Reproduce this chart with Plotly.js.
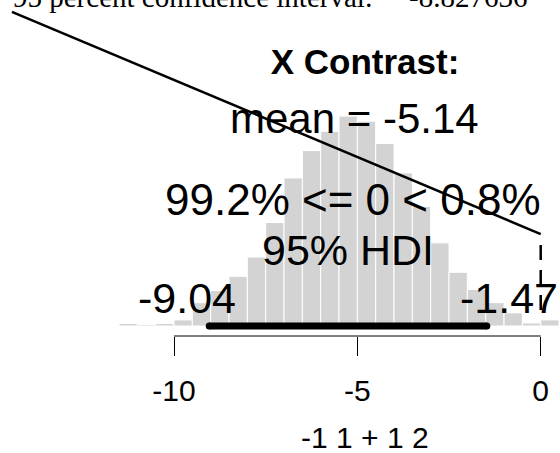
<!DOCTYPE html>
<html>
<head>
<meta charset="utf-8">
<script src="https://cdn.plot.ly/plotly-3.0.1.min.js"></script>
<style>html,body{margin:0;padding:0;background:#fff;}#chart{width:560px;height:453px;}</style>
</head>
<body>
<div id="chart"></div>
<script>
// ---- data ----
const binCenters = [-11.25,-10.75,-10.25,-9.75,-9.25,-8.75,-8.25,-7.75,-7.25,-6.75,-6.25,-5.75,
                    -5.25,-4.75,-4.25,-3.75,-3.25,-2.75,-2.25,-1.75,-1.25,-0.75,-0.25,0.25];
const binDensity = [0.0025,0.0015,0.0025,0.006,0.023,0.035,0.049,0.068,0.102,0.146,0.173,0.192,
                    0.207,0.202,0.180,0.151,0.118,0.082,0.053,0.036,0.023,0.013,0.003,0.006];
const binWidth = 0.5;
const hdiLimits = [-9.04, -1.47];
const meanValue = -5.14;
const compValue = 0;
const pctBelow = 99.2;
const pctAbove = 0.8;
const tickValues = [-10, -5, 0];
const tickLabels = ['-10', '-5', '0'];
const xLabel = '-1 1 + 1 2';
const mainTitle = 'X Contrast:';
const ciLabel = '95 percent confidence interval:';
const ciLower = '-8.827636';
// stray segment drawn over the plot (data units) and compVal dashed marker heights
const strayX = [-14.42, 0.0];
const strayY = [0.3097, 0.0907];
const compLineY = [0.0799, 0.0158];

// ---- layout helpers ----
const W = 560, H = 453, plotH = 336;
const pxPerY = 1014;
const yMin = -10 / pxPerY, yMax = 326 / pxPerY;
const xMin = -14.745, xMax = 0.526;
const yp = px => 1 - px / plotH;           // pixel row -> paper y
const xp = px => px / W;                   // pixel col -> paper x
const sans = 'Liberation Sans, Arial, sans-serif';
const serif = 'Liberation Serif, Times New Roman, serif';
const center = (base, fs) => base - 0.3465 * fs;

const fmt = v => v.toFixed(2);

const traces = [
  {
    type: 'bar', x: binCenters, y: binDensity, width: binWidth,
    marker: {color: '#D3D3D3', line: {color: '#ffffff', width: 1}},
    hoverinfo: 'skip', showlegend: false
  },
  {
    type: 'scatter', mode: 'lines+markers', x: hdiLimits, y: [0, 0],
    line: {color: '#000', width: 7}, marker: {color: '#000', size: 7},
    cliponaxis: false, hoverinfo: 'skip', showlegend: false
  }
];

const bigFs = 43;
const topBase = 6.5;
const annotations = [
  {xref: 'paper', yref: 'paper', x: xp(11), y: yp(topBase - 0.3375 * 29), xanchor: 'left', yanchor: 'middle',
   text: ciLabel, showarrow: false, font: {family: serif, size: 29, color: '#000'}},
  {xref: 'paper', yref: 'paper', x: xp(407), y: yp(topBase - 0.3375 * 29), xanchor: 'left', yanchor: 'middle',
   text: ciLower, showarrow: false, font: {family: serif, size: 29, color: '#000'}},
  {xref: 'paper', yref: 'paper', x: xp(354), y: yp(center(133.3, 42)), xanchor: 'center', yanchor: 'middle',
   text: 'mean = ' + fmt(meanValue), showarrow: false, font: {family: sans, size: 42, color: '#000'}},
  {xref: 'x', yref: 'paper', x: compValue, xshift: 2, y: yp(center(215, 44)), xanchor: 'right', yanchor: 'middle',
   text: pctBelow.toFixed(1) + '% &lt;= ' + compValue + ' &lt; ' + pctAbove.toFixed(1) + '%', showarrow: false,
   font: {family: sans, size: 44, color: '#000'}},
  {xref: 'paper', yref: 'paper', x: xp(347.5), y: yp(center(265, bigFs)), xanchor: 'center', yanchor: 'middle',
   text: '95% HDI', showarrow: false, font: {family: sans, size: bigFs, color: '#000'}},
  {xref: 'x', yref: 'paper', x: hdiLimits[0], xshift: 29, y: yp(center(313, bigFs)), xanchor: 'right', yanchor: 'middle',
   text: fmt(hdiLimits[0]), showarrow: false, font: {family: sans, size: bigFs, color: '#000'}},
  {xref: 'x', yref: 'paper', x: hdiLimits[1], xshift: -29, y: yp(center(313, bigFs)), xanchor: 'left', yanchor: 'middle',
   text: fmt(hdiLimits[1]), showarrow: false, font: {family: sans, size: bigFs, color: '#000'}},
  // x-axis label (R centres it on the axis span, not on the whole plotting window)
  {xref: 'paper', yref: 'paper', x: xp(365), y: yp(center(448, 30)), xanchor: 'center', yanchor: 'middle',
   text: xLabel, showarrow: false, font: {family: sans, size: 30, color: '#000'}}
];

const shapes = [
  {type: 'line', xref: 'x', yref: 'paper', x0: tickValues[0], x1: tickValues[tickValues.length - 1], y0: 0, y1: 0,
   line: {color: '#000', width: 1}},
  {type: 'line', xref: 'x', yref: 'y', x0: strayX[0], x1: strayX[1], y0: strayY[0], y1: strayY[1],
   line: {color: '#000', width: 2.5}},
  {type: 'line', xref: 'x', yref: 'y', x0: compValue, x1: compValue, y0: compLineY[0], y1: compLineY[1],
   line: {color: '#000', width: 2.5, dash: '15px,10px'}}
];

const layout = {
  width: W, height: H,
  margin: {l: 0, r: 0, t: 0, b: H - plotH, autoexpand: false},
  paper_bgcolor: '#fff', plot_bgcolor: '#fff',
  showlegend: false,
  bargap: 0,
  title: {text: mainTitle, x: 365 / W, xanchor: 'center', y: 1 - 61.5 / H, yanchor: 'middle',
          font: {family: sans, size: 35, weight: 700, color: '#000'}},
  xaxis: {
    range: [xMin, xMax], showgrid: false, zeroline: false, showline: false,
    tickmode: 'array', tickvals: tickValues, ticktext: tickLabels,
    ticks: 'outside', ticklen: 19, tickwidth: 1, tickcolor: '#000',
    ticklabelstandoff: 9,
    tickfont: {family: sans, size: 30, color: '#000'},
    automargin: false, fixedrange: true
  },
  yaxis: {range: [yMin, yMax], visible: false, fixedrange: true},
  annotations: annotations,
  shapes: shapes
};

Plotly.newPlot('chart', traces, layout, {staticPlot: true, displayModeBar: false});
</script>
</body>
</html>
